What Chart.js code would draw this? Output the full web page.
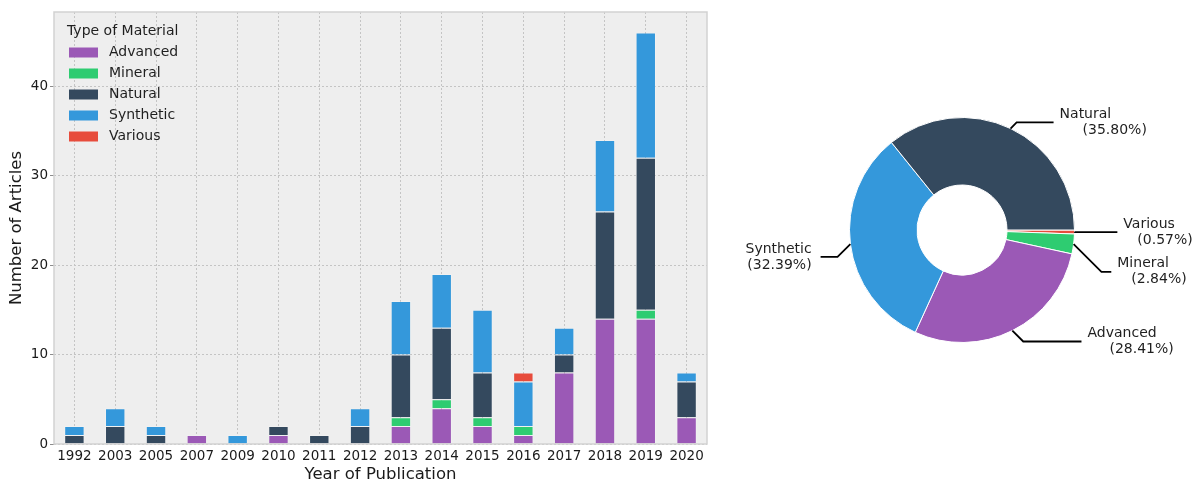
<!DOCTYPE html>
<html>
<head>
<meta charset="utf-8">
<script src="https://cdn.jsdelivr.net/npm/chart.js@4"></script>
<style>
  html, body { margin: 0; padding: 0; background: #fff; }
  #barWrap { position: absolute; left: 0; top: 0; width: 715px; height: 481px; }
  #donutWrap { position: absolute; left: 715px; top: 0; width: 480px; height: 481px; }
</style>
</head>
<body>
<div id="barWrap"><canvas id="bars"></canvas></div>
<div id="donutWrap"><canvas id="donut"></canvas></div>
<script>
// articles per publication year, split by material type
const years = ['1992', '2003', '2005', '2007', '2009', '2010', '2011', '2012',
               '2013', '2014', '2015', '2016', '2017', '2018', '2019', '2020'];
const materials = ['Advanced', 'Mineral', 'Natural', 'Synthetic', 'Various'];
const advanced  = [0, 0, 0, 1, 0, 1, 0, 0, 2, 4, 2, 1, 8, 14, 14, 3];
const mineral   = [0, 0, 0, 0, 0, 0, 0, 0, 1, 1, 1, 1, 0, 0, 1, 0];
const natural   = [1, 2, 1, 0, 0, 1, 1, 2, 7, 8, 5, 0, 2, 12, 17, 4];
const synthetic = [1, 2, 1, 0, 1, 0, 0, 2, 6, 6, 7, 5, 3, 8, 14, 1];
const various   = [0, 0, 0, 0, 0, 0, 0, 0, 0, 0, 0, 1, 0, 0, 0, 0];
const yTicks = [0, 10, 20, 30, 40];

const colors = ['#9b59b6', '#2ecc71', '#34495e', '#3498db', '#e74c3c'];
const series = [advanced, mineral, natural, synthetic, various];

Chart.defaults.font.family = "'DejaVu Sans', sans-serif";
Chart.defaults.color = '#262626';

// ---------- stacked bars ----------
const plotFrame = {
  id: 'plotFrame',
  beforeDraw(chart) {
    const { ctx, chartArea: a } = chart;
    ctx.save();
    ctx.fillStyle = '#eeeeee';
    ctx.fillRect(a.left, a.top, a.right - a.left, a.bottom - a.top);
    ctx.restore();
  },
  afterDatasetsDraw(chart) {
    const { ctx, chartArea: a } = chart;
    ctx.save();
    ctx.strokeStyle = '#d2d2d2';
    ctx.lineWidth = 1.5;
    ctx.strokeRect(a.left, a.top, a.right - a.left, a.bottom - a.top);
    ctx.restore();
  }
};

// legend box in the upper-left corner of the plot
const innerLegend = {
  id: 'innerLegend',
  afterDraw(chart) {
    const { ctx, chartArea: a } = chart;
    ctx.save();
    ctx.font = "14px 'DejaVu Sans'";
    ctx.textBaseline = 'middle';
    ctx.fillStyle = '#1f1f1f';
    ctx.fillText('Type of Material', a.left + 13, a.top + 19.5);
    chart.data.datasets.forEach((ds, i) => {
      const y = a.top + 40.5 + i * 21;
      ctx.fillStyle = ds.backgroundColor;
      ctx.fillRect(a.left + 15, y - 5, 29, 10);
      ctx.fillStyle = '#1f1f1f';
      ctx.fillText(ds.label, a.left + 55, y);
    });
    ctx.restore();
  }
};

new Chart(document.getElementById('bars'), {
  type: 'bar',
  data: {
    labels: years,
    datasets: materials.map((m, i) => ({
      label: m,
      data: series[i],
      backgroundColor: colors[i],
      borderColor: 'rgba(255,255,255,0.2)',
      borderWidth: 1,
      categoryPercentage: 1,
      barPercentage: 0.5
    }))
  },
  options: {
    responsive: true,
    maintainAspectRatio: false,
    animation: false,
    layout: { padding: { top: 12, right: 8, left: 0, bottom: 0 } },
    plugins: { legend: { display: false }, tooltip: { enabled: false } },
    scales: {
      x: {
        stacked: true,
        afterFit: s => { s.height = 37; },
        grid: { offset: false, color: '#c4c4c4', drawTicks: false },
        border: { display: false, dash: [2, 2] },
        ticks: { autoSkip: false, maxRotation: 0, padding: 4, font: { size: 13.5 }, color: '#1a1a1a' },
        title: { display: true, text: 'Year of Publication', font: { size: 16.5 }, color: '#1a1a1a', padding: { top: 0, bottom: -4 } }
      },
      y: {
        stacked: true,
        min: 0,
        max: 48.3,
        afterFit: s => { s.width = 54; },
        afterBuildTicks: s => { s.ticks = yTicks.map(v => ({ value: v })); },
        grid: { color: '#c4c4c4', tickLength: 4, tickBorderDash: [], tickColor: '#8c8c8c' },
        border: { display: false, dash: [2, 2] },
        ticks: { padding: 2, font: { size: 13.5 }, color: '#1a1a1a' },
        title: { display: true, text: 'Number of Articles', font: { size: 16.5 }, color: '#1a1a1a', padding: { top: 7, bottom: 0 } }
      }
    }
  },
  plugins: [plotFrame, innerLegend]
});

// ---------- share of each material ----------
const totals = materials.map((m, i) => series[i].reduce((s, v) => s + v, 0));
const grand = totals.reduce((s, v) => s + v, 0);
// smallest first so the slices run clockwise from three o'clock
const donutOrder = materials.map((m, i) => i).sort((p, q) => totals[p] - totals[q]);

// where each callout line ends, in units of the outer radius
const callouts = {
  Natural:   { x: 0.814,  y: -0.956, indent: 23 },
  Various:   { x: 1.381,  y: 0.018,  indent: 14 },
  Mineral:   { x: 1.327,  y: 0.372,  indent: 14 },
  Advanced:  { x: 1.062,  y: 0.991,  indent: 22 },
  Synthetic: { x: -1.257, y: 0.239,  indent: 0 }
};

const sliceLabels = {
  id: 'sliceLabels',
  afterDatasetsDraw(chart) {
    const { ctx } = chart;
    const meta = chart.getDatasetMeta(0);
    ctx.save();
    ctx.font = "14px 'DejaVu Sans'";
    ctx.textBaseline = 'middle';
    meta.data.forEach((arc, i) => {
      const name = chart.data.labels[i];
      const c = callouts[name];
      const value = chart.data.datasets[0].data[i];
      const pct = '(' + (value / grand * 100).toFixed(2) + '%)';
      const mid = (arc.startAngle + arc.endAngle) / 2;
      const R = arc.outerRadius;
      const px = arc.x + R * Math.cos(mid), py = arc.y + R * Math.sin(mid);
      const tx = arc.x + c.x * R, ty = arc.y + c.y * R;
      const side = Math.sign(tx - px);
      const ex = px + side * Math.abs(ty - py);
      ctx.strokeStyle = '#000';
      ctx.lineWidth = 1.8;
      ctx.beginPath();
      ctx.moveTo(px, py);
      ctx.lineTo(ex, ty);
      ctx.lineTo(tx, ty);
      ctx.stroke();
      ctx.fillStyle = '#1f1f1f';
      if (side > 0) {
        ctx.textAlign = 'left';
        ctx.fillText(name, tx + 6, ty - 8);
        ctx.fillText(pct, tx + 6 + c.indent, ty + 8);
      } else {
        ctx.textAlign = 'right';
        ctx.fillText(name, tx - 9, ty - 8);
        ctx.fillText(pct, tx - 9, ty + 8);
      }
    });
    ctx.restore();
  }
};

new Chart(document.getElementById('donut'), {
  type: 'doughnut',
  data: {
    labels: donutOrder.map(i => materials[i]),
    datasets: [{
      data: donutOrder.map(i => totals[i]),
      backgroundColor: donutOrder.map(i => colors[i]),
      borderColor: '#ffffff',
      borderWidth: 1
    }]
  },
  options: {
    responsive: true,
    maintainAspectRatio: false,
    animation: false,
    rotation: 90,
    cutout: '40%',
    layout: { padding: { left: 134, right: 120, top: 117, bottom: 138 } },
    plugins: { legend: { display: false }, tooltip: { enabled: false } }
  },
  plugins: [sliceLabels]
});
</script>
</body>
</html>
